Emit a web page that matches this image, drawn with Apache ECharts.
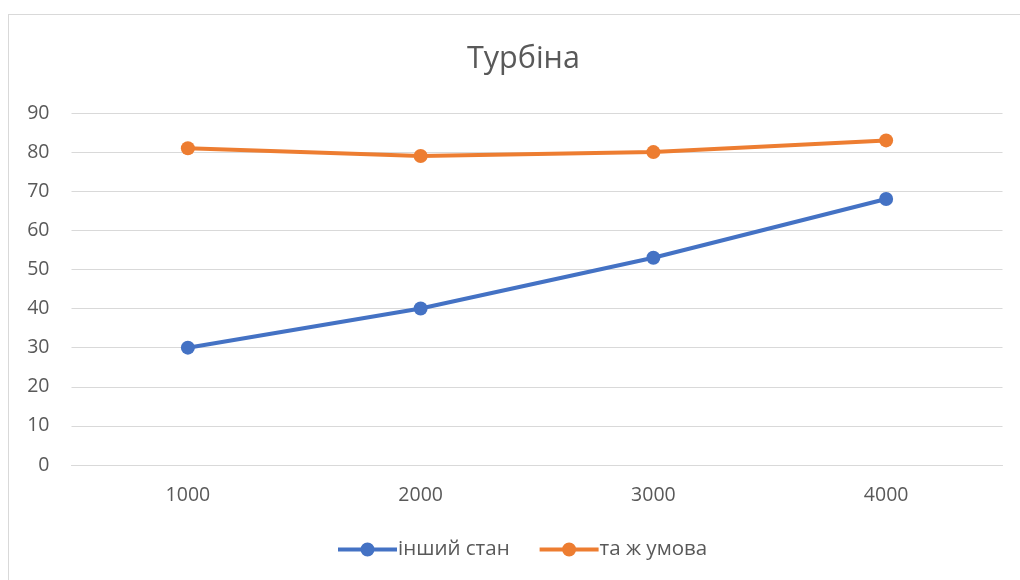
<!DOCTYPE html>
<html><head><meta charset="utf-8">
<script src="https://cdn.jsdelivr.net/npm/echarts@6/dist/echarts.min.js"></script>
<style>html,body{margin:0;padding:0;background:#fff;}#c{width:1020px;height:580px;position:relative;}
#b{position:absolute;left:8px;top:14px;width:1020px;height:600px;border:1px solid #d9d9d9;box-sizing:border-box;pointer-events:none;}</style>
</head><body><div id="c"></div><div id="b"></div>
<script>
const categories = ['1000', '2000', '3000', '4000'];
const seriesNames = ['інший стан', 'та ж умова'];
const otherState = [30, 40, 53, 68];
const sameCondition = [81, 79, 80, 83];
const yTicks = [0, 10, 20, 30, 40, 50, 60, 70, 80, 90];

const chart = echarts.init(document.getElementById('c'), null, {renderer: 'canvas'});
const font = '"Open Sans", "Noto Sans", sans-serif';
chart.setOption({
  animation: false,
  backgroundColor: '#fff',
  title: {text: 'Турбіна', left: 462, top: 39,
    textStyle: {fontFamily: font, fontSize: 30.5, fontWeight: 'normal', color: '#595959'}},
  legend: {bottom: 15, left: 333, itemWidth: 59, itemHeight: 14, itemGap: 30,
    icon: 'path://M0,5L59,5L59,9L0,9ZM22.5,7A7,7 0 1 1 36.5,7A7,7 0 1 1 22.5,7Z',
    textStyle: {fontFamily: font, fontSize: 20.5, color: '#595959', padding: [0,0,0,-4]},
    data: seriesNames},
  grid: {left: 71.5, right: 17.5, top: 113, bottom: 115},
  xAxis: {type: 'category', data: categories, boundaryGap: true,
    axisLine: {show: true, lineStyle: {color: '#d9d9d9', width: 1}},
    axisTick: {show: false},
    axisLabel: {fontFamily: font, fontSize: 19.5, color: '#595959', margin: 20}},
  yAxis: {type: 'value', min: yTicks[0], max: yTicks[yTicks.length-1], interval: 10,
    axisLine: {show: false}, axisTick: {show: false},
    splitLine: {lineStyle: {color: '#d9d9d9', width: 1}},
    axisLabel: {fontFamily: font, fontSize: 19.5, color: '#595959', margin: 22}},
  series: [
    {name: seriesNames[0], type: 'line', data: otherState, symbol: 'circle', symbolSize: 14,
     lineStyle: {width: 4, color: '#4472c4'}, itemStyle: {color: '#4472c4'}},
    {name: seriesNames[1], type: 'line', data: sameCondition, symbol: 'circle', symbolSize: 14,
     lineStyle: {width: 4, color: '#ed7d31'}, itemStyle: {color: '#ed7d31'}}
  ]
});
</script></body></html>
